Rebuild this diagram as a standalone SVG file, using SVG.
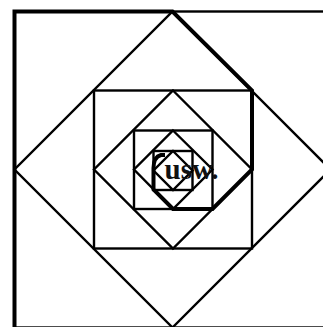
<svg xmlns="http://www.w3.org/2000/svg" width="323" height="327" viewBox="0 0 323 327">
<style>
.s{fill:none;stroke:#000;stroke-width:2.4}
.t{fill:none;stroke:#000;stroke-width:4;stroke-linejoin:miter}
.lbl{font-family:"Liberation Serif","Times New Roman",serif;font-size:29px;font-weight:bold;fill:#111}
</style>
<rect width="323" height="327" fill="#fff"/>
<g id="squares">
<rect id="sq1" class="s" x="14.5" y="11.5" width="316" height="316"/>
<polygon id="dm1" class="s" points="172.5,11.5 330.5,169.5 172.5,327.5 14.5,169.5"/>
<rect id="sq2" class="s" x="94" y="90.5" width="158" height="158"/>
<polygon id="dm2" class="s" points="173,90.5 252,169.5 173,248.5 94,169.5"/>
<rect id="sq3" class="s" x="134" y="130.5" width="78.5" height="78.5"/>
<polygon id="dm3" class="s" points="173,130.5 212.5,169.5 173,209 134,169.5"/>
<rect id="sq4" class="s" x="153.5" y="151" width="39" height="39"/>
<polygon id="dm4" class="s" points="173,151 192.5,170.5 173,190 153.5,170.5"/>
</g>
<g id="spiral">
<path class="t" d="M14.5,330 V11.5 H172.5 L252,90.5 V169.5 L212.5,209 H173 L153.5,189.5 V168 Q153.5,157 161,155 H165"/>
</g>
<g id="label">
<text class="lbl" x="164.5" y="179">usw.</text>
</g>
</svg>
